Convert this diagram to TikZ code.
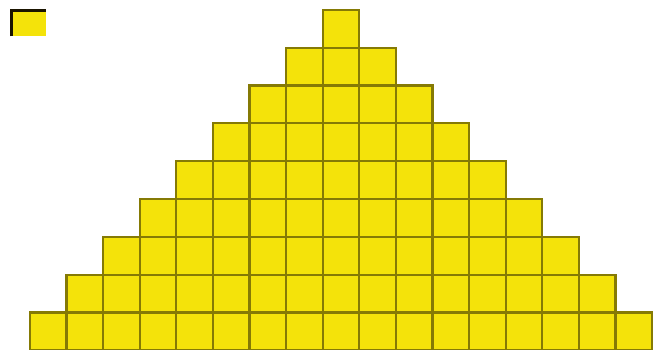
\documentclass[tikz,border=0pt]{standalone}
\usepackage{tikz}
\usetikzlibrary{positioning,calc}
\definecolor{pyfill}{HTML}{F4E30A}
\definecolor{pyedge}{HTML}{857A05}
\definecolor{pyicon}{HTML}{1A1400}

\begin{document}
\begin{tikzpicture}[
  x=1pt, y=-1pt,
  cellbox/.style={draw=pyedge, fill=pyfill, line width=2.2pt, minimum width=36.6pt, minimum height=37.8pt, inner sep=0pt, outer sep=0pt},
  iconbox/.style={fill=pyfill, minimum width=34pt, minimum height=26pt, inner sep=0pt, outer sep=0pt},
]
\useasboundingbox (0,0) rectangle (661,350);
% small marker, top left
\node[iconbox] (icon) at (28.5,23.5) {};
\draw[pyicon, line width=3pt] (icon.south west) -- (icon.north west) -- (icon.north east);
% pyramid of cells, row r has 2r+1 cells
\foreach \r in {0,...,8} {
  \foreach \c in {-\r,...,\r} {
    \node[cellbox] (cell-\r-\c) at ({341+36.6*\c},{28.9+37.8*\r}) {};
  }
}
\end{tikzpicture}
\end{document}
